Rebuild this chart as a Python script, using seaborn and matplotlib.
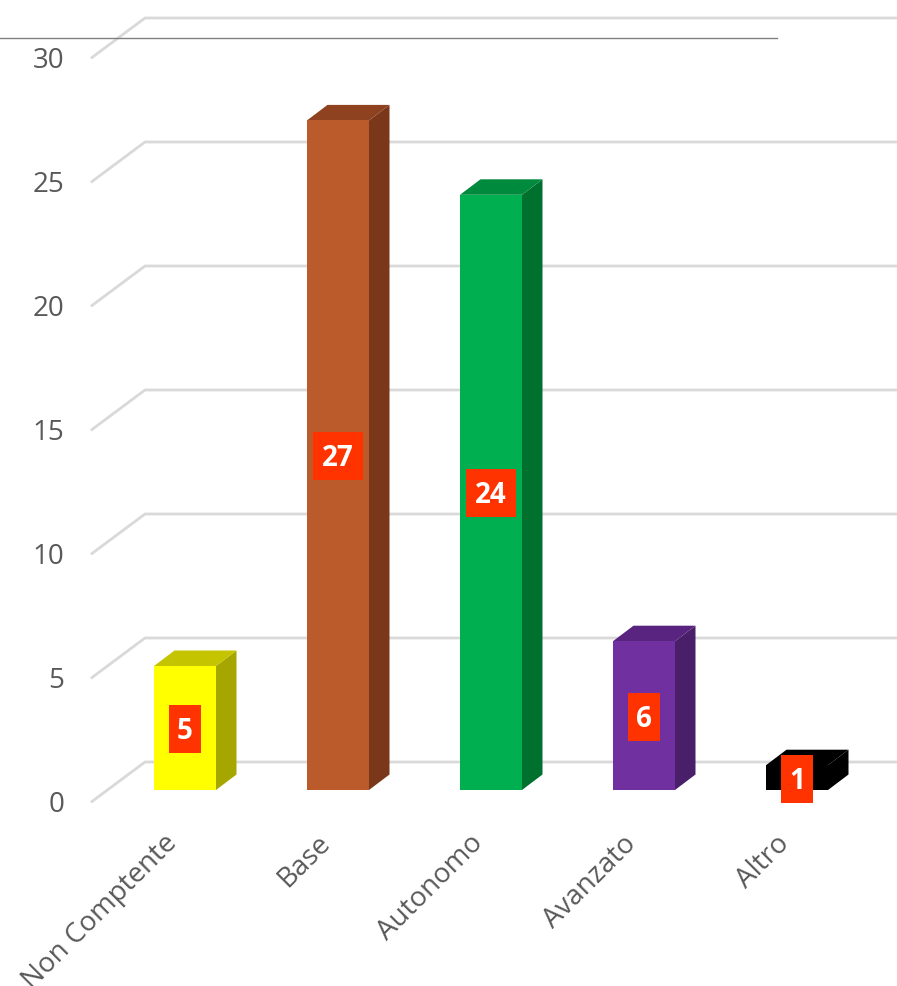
import seaborn as sns
import pandas as pd
import matplotlib.pyplot as plt
from matplotlib.patches import Rectangle

categories = ['Non Comptente', 'Base', 'Autonomo', 'Avanzato', 'Altro']
values = [5, 27, 24, 6, 1]
y_ticks = [0, 5, 10, 15, 20, 25, 30]

front_colors = ['#ffff00', '#bb5a2b', '#00b050', '#7030a0', '#000000']
top_colors = ['#c4c400', '#8f421f', '#008a3e', '#582480', '#000000']
side_colors = ['#a6a600', '#7a3719', '#00702f', '#481f68', '#000000']

W, H = 897, 986
PX_X = 153.0     # pixels per category
PX_Y = 24.8      # pixels per unit
X0, Y0 = 185.0, 790.0   # pixel position of first category, value 0
GRID = '#d9d9d9'
TEXT = '#595959'
FONT = 'Open Sans'

df = pd.DataFrame({'cat': categories, 'val': values})

fig = plt.figure(figsize=(W / 100, H / 100), dpi=100)
ax = fig.add_axes([0, 0, 1, 1])

# Bars, front faces
sns.barplot(data=df, x='cat', y='val', hue='cat', palette=front_colors, width=62 / PX_X,
            saturation=1, legend=False, ax=ax, zorder=3, edgecolor='none')
ax.set_xlim(-X0 / PX_X, (W - X0) / PX_X)
ax.set_ylim((Y0 - H) / PX_Y, Y0 / PX_Y)
ax.axis('off')

# Depth of the bars and of the walls
dx, dy = 20.5 / PX_X, 15.5 / PX_Y
wall_up = 28 / PX_Y
front_down = 11.5 / PX_Y
left = -X0 / PX_X + 92 / PX_X
wall = -X0 / PX_X + 145 / PX_X

for i, v in enumerate(values):
    bar = ax.patches[i]
    x1, x2 = bar.get_x(), bar.get_x() + bar.get_width()
    ax.fill([x2, x2 + dx, x2 + dx, x2], [0, dy, v + dy, v], color=side_colors[i], lw=0, zorder=2)
    ax.fill([x1, x1 + dx, x2 + dx, x2], [v, v + dy, v + dy, v], color=top_colors[i], lw=0, zorder=2)

    # Value label: red box and white number
    label = str(v)
    box_w = (14 + 18 * len(label)) / PX_X
    box_h = 48 / PX_Y
    ax.add_patch(Rectangle((i - box_w / 2, v / 2 - 1 / PX_Y - box_h / 2), box_w, box_h,
                           fc='#ff3300', ec='none', zorder=5))
    ax.text(i, v / 2 - 3.5 / PX_Y, label, color='white', fontsize=20, fontweight='bold', family=FONT,
            ha='center', va='center', zorder=6)

# Gridlines on the back wall and on the side wall, tick labels
for t in y_ticks:
    ax.plot([left, wall, ax.get_xlim()[1]], [t - front_down, t + wall_up, t + wall_up],
            color=GRID, lw=2, zorder=1, solid_joinstyle='miter')
    ax.text(-X0 / PX_X + 64 / PX_X, t - front_down - 4 / PX_Y, str(t), color=TEXT, fontsize=20, family=FONT,
            ha='right', va='center')

for i, c in enumerate(categories):
    ax.text(i - 12 / PX_X, -2.0, c, color=TEXT, fontsize=20, family=FONT, rotation=45,
            rotation_mode='anchor', ha='right', va='center')

# Thin rule across the top
ax.plot([ax.get_xlim()[0], -X0 / PX_X + 777 / PX_X], [(Y0 - 37.5) / PX_Y] * 2, color='#808080', lw=1, zorder=4)

plt.savefig('out.png', dpi=100)
plt.close('all')
